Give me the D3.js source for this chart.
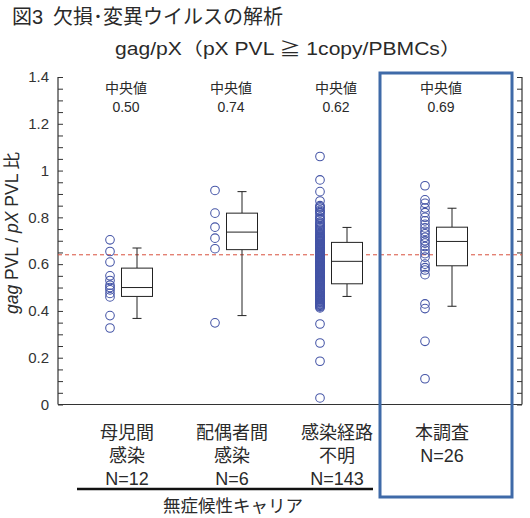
<!DOCTYPE html>
<html><head><meta charset="utf-8">
<script src="https://cdn.jsdelivr.net/npm/d3@7"></script>
<style>
body{margin:0;background:#fff;}
svg{font-family:"Liberation Sans","Noto Sans CJK JP",sans-serif;}
</style></head>
<body><svg id="c" width="530" height="518"></svg>
<script>
const categories = ["母児間感染","配偶者間感染","感染経路不明","本調査"];
const labelLines = [["母児間","感染","N=12"],["配偶者間","感染","N=6"],["感染経路","不明","N=143"],["本調査","N=26"]];
const medianText = ["0.50","0.74","0.62","0.69"];
const yTickLabels = [0,0.2,0.4,0.6,0.8,1,1.2,1.4];
const refLine = 0.64;

const pointsMC = [0.704,0.654,0.609,0.55,0.53,0.51,0.50,0.49,0.475,0.46,0.38,0.327];
const pointsSp = [0.915,0.818,0.758,0.711,0.666,0.349];
const pointsUnk = [1.06,0.96,0.91,0.87,
 0.85,0.845,0.84,0.83,0.825,0.82,0.81,0.80,0.795,0.79,0.78,0.775,0.77,0.765,0.76,0.755,0.75,0.745,0.74,0.735,0.73,0.725,0.72,0.718,0.715,0.712,0.71,0.706,0.703,0.70,0.698,0.695,
 0.69,0.688,0.685,0.683,0.68,0.678,0.675,0.672,0.67,0.668,0.665,0.662,0.66,0.657,0.655,0.652,0.65,0.648,0.645,0.642,0.64,0.638,0.635,0.632,0.63,0.628,0.625,0.623,0.62,0.618,0.617,0.616,0.615,0.614,0.612,0.611,
 0.608,0.605,0.602,0.60,0.597,0.595,0.592,0.59,0.587,0.585,0.582,0.58,0.577,0.575,0.572,0.57,0.567,0.565,0.562,0.56,0.557,0.555,0.552,0.55,0.547,0.545,0.542,0.54,0.537,0.535,0.532,0.53,0.527,0.525,0.522,0.518,
 0.514,0.51,0.507,0.505,0.50,0.497,0.494,0.49,0.487,0.484,0.48,0.477,0.474,0.47,0.467,0.464,0.46,0.457,0.454,0.45,0.447,0.444,0.44,0.437,0.434,0.43,0.427,0.424,0.42,0.417,0.413,
 0.344,0.263,0.185,0.028];
const pointsStudy = [0.935,0.875,0.86,0.84,0.82,0.80,0.785,0.77,0.755,0.74,0.73,0.715,0.70,0.69,0.675,0.66,0.645,0.63,0.60,0.585,0.575,0.555,0.43,0.41,0.27,0.11];
const allPoints = [pointsMC,pointsSp,pointsUnk,pointsStudy];

const whiskerLow = [0.368,0.380,0.462,0.420];
const q1 = [0.462,0.662,0.516,0.593];
const median = [0.50,0.737,0.612,0.697];
const q3 = [0.583,0.818,0.693,0.758];
const whiskerHigh = [0.669,0.910,0.757,0.839];

(function(){
const svg = d3.select("#c");
const L=58, R=522, T=77, B=404.5;
const y = d3.scaleLinear().domain([0,1.4]).range([B,T]);
const x = d3.scalePoint().domain(categories).range([123,438]);
const axisCol="#333";
const txt="#2a2a2a";

// title
svg.append("text").attr("x",12).attr("y",24).attr("font-size",20).attr("fill",txt).text("図3\u2002欠損･変異ウイルスの解析");
svg.append("text").attr("x",115).attr("y",55).attr("font-size",17.5).attr("fill",txt)
  .attr("textLength",346).attr("lengthAdjust","spacingAndGlyphs").text("gag/pX（pX PVL ≧ 1copy/PBMCs）");

// axes
const ticks = d3.range(0,29).map(i=>+(i*0.05).toFixed(2));
const yl = d3.axisLeft(y).tickValues(ticks).tickSize(-5).tickPadding(9)
  .tickFormat(d=> yTickLabels.some(v=>Math.abs(v-d)<1e-6) ? d3.format("")(d) : "");
const gl = svg.append("g").attr("transform",`translate(${L},0)`).call(yl);
gl.select(".domain").remove();
gl.selectAll("line").attr("stroke",axisCol);
gl.selectAll("text").attr("font-size",15).attr("fill","#333").attr("font-family","Liberation Sans, sans-serif");
const yr = d3.axisRight(y).tickValues(ticks).tickSize(-5).tickFormat("");
const gr = svg.append("g").attr("transform",`translate(${R},0)`).call(yr);
gr.select(".domain").remove();
gr.selectAll("line").attr("stroke",axisCol);
svg.append("line").attr("x1",L).attr("x2",L).attr("y1",T).attr("y2",B).attr("stroke",axisCol).attr("stroke-width",1.2);
svg.append("line").attr("x1",R).attr("x2",R).attr("y1",T).attr("y2",B).attr("stroke",axisCol).attr("stroke-width",1.2);
svg.append("line").attr("x1",L).attr("x2",R).attr("y1",B).attr("y2",B).attr("stroke",axisCol).attr("stroke-width",1.2);

// y label
const yt = svg.append("text").attr("transform",`translate(18,233) rotate(-90)`).attr("text-anchor","middle").attr("font-size",17.5).attr("fill",txt);
yt.append("tspan").attr("font-style","italic").text("gag");
yt.append("tspan").text(" PVL / ");
yt.append("tspan").attr("font-style","italic").text("pX");
yt.append("tspan").text(" PVL 比");

// ref line
svg.append("line").attr("x1",L).attr("x2",R).attr("y1",y(refLine)).attr("y2",y(refLine))
  .attr("stroke","#d9503c").attr("stroke-width",1).attr("stroke-dasharray","4,3");

// boxes
const boxW=31, capW=9;
categories.forEach((c,i)=>{
  const cx = x(c)+14;
  const g = svg.append("g").attr("stroke","#222").attr("stroke-width",1).attr("fill","none");
  g.append("line").attr("x1",cx).attr("x2",cx).attr("y1",y(whiskerHigh[i])).attr("y2",y(q3[i]));
  g.append("line").attr("x1",cx).attr("x2",cx).attr("y1",y(q1[i])).attr("y2",y(whiskerLow[i]));
  g.append("line").attr("x1",cx-capW/2).attr("x2",cx+capW/2).attr("y1",y(whiskerHigh[i])).attr("y2",y(whiskerHigh[i]));
  g.append("line").attr("x1",cx-capW/2).attr("x2",cx+capW/2).attr("y1",y(whiskerLow[i])).attr("y2",y(whiskerLow[i]));
  g.append("rect").attr("x",cx-boxW/2).attr("width",boxW).attr("y",y(q3[i])).attr("height",y(q1[i])-y(q3[i])).attr("fill","#fff");
  g.append("line").attr("x1",cx-boxW/2).attr("x2",cx+boxW/2).attr("y1",y(median[i])).attr("y2",y(median[i]));
  svg.append("g").selectAll("circle").data(allPoints[i]).join("circle")
    .attr("cx",x(c)-13).attr("cy",d=>y(d)).attr("r",4.3)
    .attr("fill","none").attr("stroke","#4454a6").attr("stroke-width",1.05);
  svg.append("text").attr("x",x(c)+3).attr("y",93).attr("text-anchor","middle").attr("font-size",14).attr("fill",txt).text("中央値");
  svg.append("text").attr("x",x(c)+3).attr("y",112).attr("text-anchor","middle").attr("font-size",14).attr("fill",txt).text(medianText[i]);
  labelLines[i].forEach((t,j)=>{
    svg.append("text").attr("x",x(c)+4).attr("y",439+j*23).attr("text-anchor","middle").attr("font-size",18).attr("fill",txt).text(t);
  });
});

svg.append("rect").attr("x",380).attr("y",73).attr("width",132).attr("height",424)
  .attr("fill","none").attr("stroke","#3f6aa8").attr("stroke-width",3);

svg.append("line").attr("x1",77).attr("x2",373).attr("y1",489).attr("y2",489).attr("stroke","#111").attr("stroke-width",2.5);
svg.append("text").attr("x",233).attr("y",512).attr("text-anchor","middle").attr("font-size",17.5).attr("fill",txt).text("無症候性キャリア");
})();
</script></body></html>
